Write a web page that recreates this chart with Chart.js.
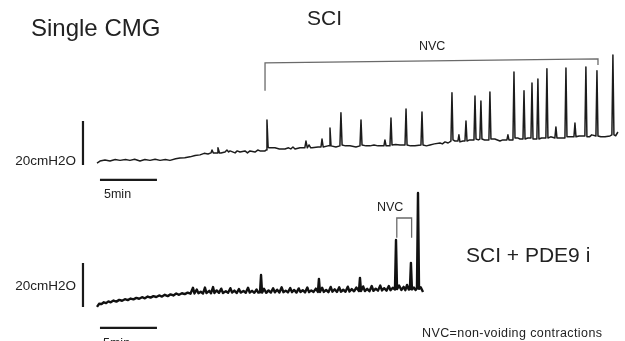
<!DOCTYPE html>
<html>
<head>
<meta charset="utf-8">
<script src="https://cdn.jsdelivr.net/npm/chart.js@4.4.1/dist/chart.umd.min.js"></script>
<style>
  html, body { margin: 0; padding: 0; background: #fff; }
  canvas { display: block; }
</style>
</head>
<body>
<canvas id="cmg" width="625" height="341"></canvas>
<script>
// SCI trace: time (min) and bladder pressure (cmH2O)
const sciTime = [0, 0.26, 0.70, 1.14, 1.6, 2.02, 2.5, 2.89, 3.3, 3.77, 4.2, 4.65, 5.1, 5.53, 6.0, 6.40, 6.9, 7.28, 7.7, 8.16, 8.6, 9.04, 9.4, 9.74, 10.0, 10.09, 10.2, 10.35, 10.55, 10.61, 10.75, 10.88, 11.23, 11.4, 11.55, 11.67, 12.11, 12.3, 12.54, 12.98, 13.2, 13.42, 13.86, 14.1, 14.30, 14.74, 14.83, 14.91, 15.01, 15.09, 15.61, 16.0, 16.49, 16.8, 17.0, 17.19, 17.37, 17.81, 18.23, 18.33, 18.45, 18.60, 18.75, 18.86, 19.39, 19.65, 19.74, 19.84, 20.26, 20.36, 20.44, 20.53, 20.96, 21.31, 21.40, 21.50, 21.8, 22.19, 22.72, 23.07, 23.16, 23.25, 23.6, 23.95, 24.3, 24.65, 25.17, 25.26, 25.36, 25.70, 25.79, 25.88, 26.2, 26.58, 27.02, 27.11, 27.20, 27.5, 27.89, 28.42, 28.51, 28.60, 28.9, 29.21, 29.6, 30.09, 30.3, 30.53, 30.8, 31.05, 31.14, 31.23, 31.4, 31.66, 31.75, 31.84, 32.1, 32.28, 32.37, 32.46, 32.7, 33.07, 33.16, 33.25, 33.45, 33.59, 33.68, 33.77, 34.0, 34.38, 34.47, 34.56, 34.9, 35.35, 35.6, 35.79, 35.96, 36.05, 36.14, 36.49, 36.58, 36.67, 36.9, 37.11, 37.37, 37.46, 37.55, 37.8, 38.07, 38.16, 38.25, 38.59, 38.68, 38.77, 39.0, 39.38, 39.47, 39.56, 39.8, 40.17, 40.26, 40.35, 40.6, 41.05, 41.14, 41.23, 41.5, 41.84, 41.93, 42.02, 42.3, 42.80, 42.89, 42.98, 43.2, 43.4, 43.77, 43.86, 43.95, 44.2, 44.56, 45.00, 45.17, 45.26, 45.35, 45.5, 45.70];
const sciPressure = [8.6, 9.5, 10, 9.5, 10.2, 9.8, 10.2, 9.8, 10.3, 9.5, 10.2, 9.8, 10.3, 9.8, 10.2, 9.8, 10.5, 10.9, 11.0, 11.4, 12.0, 12.3, 13.0, 12.7, 13.2, 14.5, 13.2, 13.2, 13.2, 15.5, 13.2, 13.2, 13.6, 14.5, 13.6, 14.1, 13.2, 14.1, 13.6, 14.1, 13.2, 14.1, 13.6, 14.5, 14.1, 14.1, 14.5, 28.2, 15.9, 15.5, 15.5, 15.0, 15.0, 15.5, 15.0, 15.9, 15.0, 15.5, 15.5, 18.6, 15.5, 16.8, 15.5, 15.5, 15.9, 15.9, 19.5, 15.9, 16.4, 16.4, 24.5, 16.4, 15.9, 16.4, 31.4, 16.8, 16.4, 16.4, 15.9, 16.4, 28.2, 16.8, 16.4, 16.4, 16.8, 16.4, 16.4, 19.1, 16.4, 16.4, 29.1, 16.8, 17.0, 16.8, 16.8, 33.2, 16.8, 16.4, 16.4, 16.8, 31.8, 16.8, 16.4, 16.8, 17.3, 17.7, 17.3, 18.2, 17.7, 18.6, 40.5, 19.1, 18.6, 18.6, 21.4, 18.2, 18.6, 18.6, 27.7, 18.6, 19.1, 19.1, 39.1, 19.5, 19.1, 19.5, 36.8, 19.5, 19.1, 19.1, 40.9, 19.5, 19.5, 18.6, 19.1, 19.1, 19.1, 21.4, 19.1, 19.1, 50.0, 20.0, 20.0, 19.5, 19.5, 41.4, 19.5, 20.0, 20.0, 45.0, 19.5, 19.5, 46.8, 19.5, 20.0, 20.0, 51.4, 20.0, 20.5, 20.0, 25.0, 20.0, 20.0, 20.0, 51.8, 20.5, 20.5, 20.5, 26.8, 20.5, 20.9, 20.9, 52.3, 20.5, 20.5, 21.4, 20.9, 50.5, 20.9, 20.5, 20.5, 20.9, 21.4, 57.7, 21.4, 21.0, 22.7];

// SCI + PDE9 inhibitor trace
const pdeTime = [0, 0.18, 0.4, 0.6, 0.8, 1.0, 1.2, 1.45, 1.7, 1.95, 2.2, 2.45, 2.7, 2.95, 3.2, 3.45, 3.7, 3.95, 4.2, 4.45, 4.7, 4.95, 5.2, 5.45, 5.7, 5.95, 6.2, 6.45, 6.7, 6.95, 7.2, 7.45, 7.7, 7.95, 8.2, 8.42, 8.55, 8.75, 8.9, 9.1, 9.3, 9.47, 9.6, 9.85, 10.0, 10.18, 10.3, 10.5, 10.7, 10.9, 11.05, 11.3, 11.5, 11.7, 11.85, 12.05, 12.25, 12.45, 12.6, 12.85, 13.05, 13.25, 13.4, 13.6, 13.8, 14.0, 14.15, 14.3, 14.39, 14.48, 14.65, 14.85, 15.05, 15.25, 15.45, 15.6, 15.8, 16.0, 16.2, 16.35, 16.55, 16.75, 16.95, 17.1, 17.3, 17.5, 17.7, 17.85, 18.05, 18.25, 18.45, 18.6, 18.8, 19.0, 19.2, 19.38, 19.47, 19.56, 19.75, 19.9, 20.1, 20.3, 20.5, 20.65, 20.85, 21.05, 21.25, 21.4, 21.6, 21.8, 22.0, 22.15, 22.35, 22.55, 22.75, 22.98, 23.07, 23.16, 23.35, 23.5, 23.7, 23.9, 24.1, 24.25, 24.45, 24.65, 24.85, 25.0, 25.2, 25.4, 25.6, 25.75, 25.95, 26.14, 26.23, 26.32, 26.5, 26.7, 26.9, 27.05, 27.2, 27.35, 27.45, 27.54, 27.63, 27.8, 27.95, 28.07, 28.16, 28.25, 28.4, 28.6];
const pdePressure = [9.1, 10.5, 10.4, 11.2, 10.8, 11.6, 11.2, 12.0, 11.5, 12.3, 11.9, 12.6, 12.2, 12.9, 12.5, 13.2, 12.8, 13.5, 13.0, 13.8, 13.3, 14.0, 13.6, 14.3, 13.8, 14.6, 14.0, 14.8, 14.3, 15.2, 14.6, 15.3, 14.9, 15.6, 15.1, 17.8, 15.2, 17.0, 15.3, 16.0, 15.2, 17.9, 15.4, 16.4, 15.3, 18.1, 15.4, 16.6, 15.5, 17.4, 15.4, 16.2, 15.5, 17.6, 15.6, 16.5, 15.4, 17.2, 15.6, 16.3, 15.5, 17.8, 15.6, 16.4, 15.5, 17.0, 15.6, 15.7, 23.6, 15.6, 17.3, 15.5, 16.6, 15.6, 17.6, 15.7, 16.9, 15.6, 18.0, 15.8, 16.5, 15.7, 17.7, 15.8, 16.8, 15.6, 17.5, 15.9, 16.7, 15.7, 17.9, 15.8, 16.6, 15.9, 17.4, 15.9, 21.8, 15.9, 17.8, 15.9, 16.8, 15.8, 18.2, 16.0, 17.1, 15.9, 18.0, 16.0, 16.9, 16.0, 18.3, 16.1, 17.2, 16.2, 17.9, 16.3, 22.3, 16.3, 18.4, 16.3, 17.3, 16.2, 18.6, 16.4, 17.4, 16.5, 18.8, 16.6, 17.6, 16.5, 18.6, 16.7, 17.8, 17.0, 39.5, 17.2, 18.8, 16.8, 18.2, 16.7, 19.1, 17.0, 17.2, 29.1, 17.0, 17.9, 16.8, 17.5, 60.9, 17.3, 18.0, 15.9];

// NVC brackets [startMin, endMin], [top pressure left/right], [leg ends left/right]
const sciBracketTime = [14.74, 43.95];
const sciBracketTop = [54.1, 55.9];
const sciBracketLegs = [41.4, 53.2];
const pdeBracketTime = [26.3, 27.6];
const pdeBracketTop = [49.5, 49.5];
const pdeBracketLegs = [40.5, 40.5];

// scale bars
const barPressure = 20;   // cmH2O
const barTime = 5;        // min
const barAt = -1.23;      // min, vertical bar position
const sciBarBase = 7.7;
const pdeBarBase = 9.1;
const timeBarStart = 0.26;
const sciTimeBarLevel = 0.9;
const pdeTimeBarLevel = -0.45;

const toPoints = (t, p) => t.map((v, i) => ({ x: v, y: p[i] }));

const annotations = {
  id: 'annotations',
  afterDatasetsDraw(chart) {
    const ctx = chart.ctx;
    const xs = chart.scales.x, ys = chart.scales.y, y2 = chart.scales.y2;
    ctx.save();

    // brackets
    const bracket = (yScale, t, top, legs) => {
      ctx.strokeStyle = '#6a6a6a';
      ctx.lineWidth = 1.3;
      ctx.beginPath();
      ctx.moveTo(xs.getPixelForValue(t[0]), yScale.getPixelForValue(legs[0]));
      ctx.lineTo(xs.getPixelForValue(t[0]), yScale.getPixelForValue(top[0]));
      ctx.lineTo(xs.getPixelForValue(t[1]), yScale.getPixelForValue(top[1]));
      ctx.lineTo(xs.getPixelForValue(t[1]), yScale.getPixelForValue(legs[1]));
      ctx.stroke();
    };
    bracket(ys, sciBracketTime, sciBracketTop, sciBracketLegs);
    bracket(y2, pdeBracketTime, pdeBracketTop, pdeBracketLegs);

    // scale bars
    const bars = (yScale, base, level) => {
      ctx.strokeStyle = '#1a1a1a';
      ctx.lineWidth = 2.2;
      ctx.beginPath();
      const bx = xs.getPixelForValue(barAt);
      ctx.moveTo(bx, yScale.getPixelForValue(base));
      ctx.lineTo(bx, yScale.getPixelForValue(base + barPressure));
      const hy = yScale.getPixelForValue(level);
      ctx.moveTo(xs.getPixelForValue(timeBarStart), hy);
      ctx.lineTo(xs.getPixelForValue(timeBarStart + barTime), hy);
      ctx.stroke();
    };
    bars(ys, sciBarBase, sciTimeBarLevel);
    bars(y2, pdeBarBase, pdeTimeBarLevel);

    // text
    ctx.fillStyle = '#222';
    ctx.textBaseline = 'alphabetic';
    ctx.textAlign = 'left';
    ctx.font = '24px "Liberation Sans", Arial, sans-serif';
    ctx.fillText('Single CMG', 31, 36);
    ctx.font = '21px "Liberation Sans", Arial, sans-serif';
    ctx.fillText('SCI', 307, 25);
    ctx.fillText('SCI + PDE9 i', 466, 262);
    ctx.font = '12.5px "Liberation Sans", Arial, sans-serif';
    ctx.fillText('NVC', 419, 50);
    ctx.fillText('NVC', 377, 211);
    ctx.fillText('5min', 104, 198);
    ctx.fillText('5min', 103, 347);
    ctx.letterSpacing = '0.4px';
    ctx.fillText('NVC=non-voiding contractions', 422, 337);
    ctx.letterSpacing = '0px';
    ctx.textAlign = 'right';
    ctx.font = '13.5px "Liberation Sans", Arial, sans-serif';
    ctx.fillText('20cmH2O', 76, 165);
    ctx.fillText('20cmH2O', 76, 290);
    ctx.restore();
  }
};

new Chart(document.getElementById('cmg'), {
  type: 'line',
  data: {
    datasets: [
      {
        label: 'SCI',
        data: toPoints(sciTime, sciPressure),
        yAxisID: 'y',
        borderColor: '#1c1c1c',
        borderWidth: 1.5,
        pointRadius: 0,
        tension: 0,
        borderJoinStyle: 'round'
      },
      {
        label: 'SCI + PDE9 i',
        data: toPoints(pdeTime, pdePressure),
        yAxisID: 'y2',
        borderColor: '#111',
        borderWidth: 2.4,
        pointRadius: 0,
        tension: 0,
        borderJoinStyle: 'round'
      }
    ]
  },
  options: {
    responsive: false,
    animation: false,
    layout: { padding: 0 },
    scales: {
      x: { type: 'linear', min: -8.51, max: 46.32, display: false },
      y: { min: -72.3, max: 82.7, display: false },
      y2: { min: -6.4, max: 148.6, display: false }
    },
    plugins: {
      legend: { display: false },
      tooltip: { enabled: false }
    }
  },
  plugins: [annotations]
});
</script>
</body>
</html>
